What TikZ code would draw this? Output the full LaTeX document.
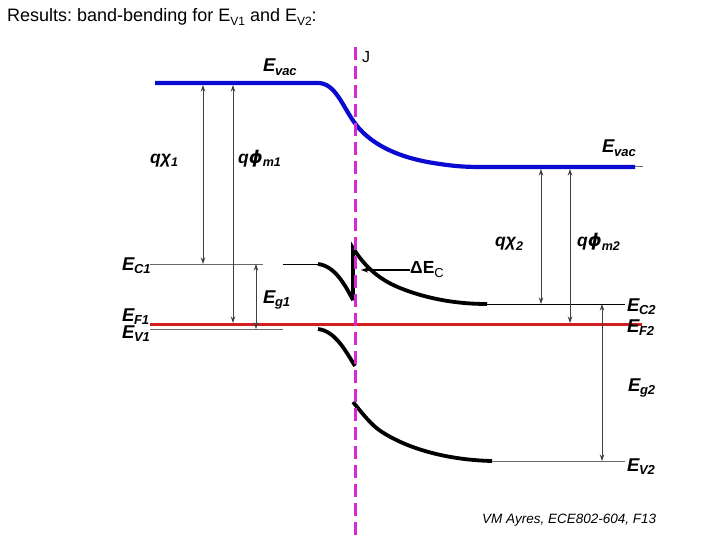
\documentclass[tikz,border=0pt]{standalone}
\usepackage{fontspec}
\setmainfont{Liberation Sans}
\newfontfamily\dejavu{DejaVu Sans}
\usetikzlibrary{arrows.meta}
\definecolor{vacblue}{RGB}{10,10,210}
\definecolor{fermired}{RGB}{210,30,30}
\definecolor{junc}{RGB}{215,40,215}
\definecolor{thingray}{RGB}{105,105,105}
\newcommand{\bisub}[2]{{\fontsize{18.5}{18.5}\selectfont\bfseries\itshape #1}\kern-0.5pt\raisebox{-3.5pt}{\fontsize{13}{13}\selectfont\bfseries\itshape #2}}
\newcommand{\qsym}[2]{{\fontsize{17.5}{17.5}\selectfont\bfseries\itshape q#1}\raisebox{-3pt}{\fontsize{12.5}{12.5}\selectfont\bfseries\itshape #2}}
\frenchspacing
\begin{document}
\begin{tikzpicture}[x=1pt,y=-1pt,
  thinline/.style={draw=thingray, line width=1pt},
  blackthin/.style={draw=black, line width=1pt},
  band/.style={draw=black, line width=3.8pt, line join=miter, miter limit=4, line cap=butt},
  vac/.style={draw=vacblue, line width=4.2pt, line join=round},
  fermi/.style={draw=fermired, line width=3pt},
  dim/.style={draw=black!75, line width=0.9pt, {Stealth[length=6.5pt,width=4.5pt]}-{Stealth[length=6.5pt,width=4.5pt]}},
  lab/.style={anchor=base west, inner sep=0pt}]
\useasboundingbox (0,0) rectangle (720,540);

% title
\node[lab] (title) at (7,22) {\fontsize{18}{18}\selectfont Results: band-bending for E\raisebox{-3.5pt}{\fontsize{12}{12}\selectfont V1} and E\raisebox{-3.5pt}{\fontsize{12}{12}\selectfont V2}:};

% vacuum level
\draw[vac] (155,83) -- (318,83) .. controls (335,83) and (342,105) .. (354,122)
  .. controls (368,142) and (395,158) .. (440,164)
  .. controls (460,167) and (470,167) .. (490,167) -- (635,167);
\draw[thinline] (635,167) -- (643,167);

% conduction band
\draw[thinline] (150,264) -- (263,264);
\draw[blackthin] (283,264) -- (318,264);
\draw[band] (318,264) .. controls (335,266) and (345,285) .. (353,300) -- (353,248)
  .. controls (362,262) and (375,278) .. (400,288)
  .. controls (430,300) and (460,304) .. (487,304);
\draw[blackthin] (487,304) -- (625,304);

% Fermi level
\draw[fermi] (150,324) -- (642,324);

% valence band
\draw[thinline] (150,329) -- (283,329);
\draw[band] (318,329) .. controls (335,331) and (345,350) .. (355,366);
\draw[band] (353,402) .. controls (363,414) and (371,425) .. (382,432)
  .. controls (410,450) and (450,460) .. (492,461);
\draw[thinline] (492,461) -- (625,461);

% coordinates for dimension arrows
\coordinate (chiAtop) at (203,85);
\coordinate (chiAbot) at (203,264);
\coordinate (phiAtop) at (233,85);
\coordinate (phiAbot) at (233,323);
\coordinate (gAtop) at (256,264);
\coordinate (gAbot) at (256,329);
\coordinate (chiBtop) at (541,169);
\coordinate (chiBbot) at (541,304);
\coordinate (phiBtop) at (570,169);
\coordinate (phiBbot) at (570,323);
\coordinate (gBtop) at (602,304);
\coordinate (gBbot) at (602,461);
\coordinate (dectip) at (361,270);

\draw[dim] (chiAtop) -- (chiAbot);
\draw[dim] (phiAtop) -- (phiAbot);
\draw[dim] (gAtop) -- (gAbot);
\draw[dim] (chiBtop) -- (chiBbot);
\draw[dim] (phiBtop) -- (phiBbot);
\draw[dim] (gBtop) -- (gBbot);

% labels
\node[lab] (evacA) at (263,72) {\bisub{E}{vac}};
\node[lab] (evacB) at (602,153) {\bisub{E}{vac}};
\node[lab] (chiA) at (150,164) {\qsym{χ}{1}};
\node[lab] (phiA) at (238,164) {{\fontsize{17.5}{17.5}\selectfont\bfseries\itshape q{\dejavu ϕ}}\raisebox{-3pt}{\fontsize{12.5}{12.5}\selectfont\bfseries\itshape m1}};
\node[lab] (chiB) at (495,247) {\qsym{χ}{2}};
\node[lab] (phiB) at (577,247) {{\fontsize{17.5}{17.5}\selectfont\bfseries\itshape q{\dejavu ϕ}}\raisebox{-3pt}{\fontsize{12.5}{12.5}\selectfont\bfseries\itshape m2}};
\node[lab] (ecA) at (122,270) {\bisub{E}{C1}};
\node[lab] (efA) at (122,321) {\bisub{E}{F1}};
\node[lab] (evA) at (122,338) {\bisub{E}{V1}};
\node[lab] (egA) at (263,303) {\bisub{E}{g1}};
\node[lab] (ecB) at (627,311) {\bisub{E}{C2}};
\node[lab] (efB) at (627,332) {\bisub{E}{F2}};
\node[lab] (egB) at (628,391) {\bisub{E}{g2}};
\node[lab] (evB) at (627,471) {\bisub{E}{V2}};

\node[anchor=west, inner sep=0pt] (dec) at (410,270) {{\fontsize{17.5}{17.5}\selectfont\bfseries ΔE}\raisebox{-4pt}{\fontsize{13}{13}\selectfont C}};
\draw[draw=black, line width=1.3pt, -{Stealth[length=7pt,width=5pt]}] (dec.west) -- (dectip);

\node[lab] (foot) at (482,523) {\fontsize{13.5}{13.5}\selectfont\itshape VM Ayres, ECE802-604, F13};

% junction
\draw[junc, line width=3pt, dash pattern=on 13pt off 6pt] (355,47) -- (355,540);
\node[lab] (J) at (362,63) {\fontsize{16}{16}\selectfont J};
\end{tikzpicture}
\end{document}
